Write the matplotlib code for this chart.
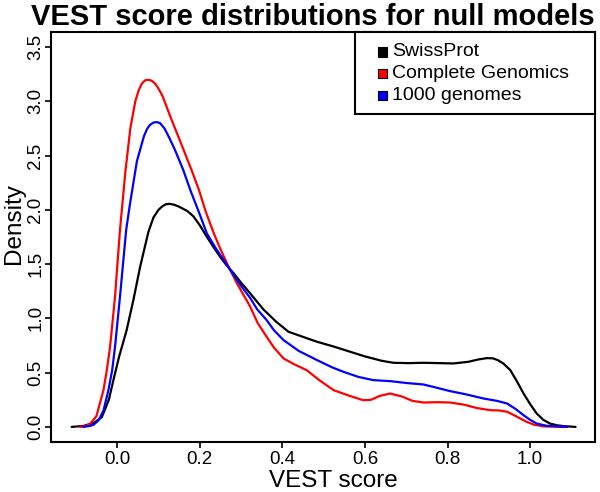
import matplotlib
matplotlib.use("Agg")
import matplotlib.pyplot as plt
from matplotlib.patches import Rectangle

plt.rcParams['font.family'] = ['Liberation Sans', 'DejaVu Sans']

# ---- data ----
series_names = ["SwissProt", "Complete Genomics", "1000 genomes"]
series_colors = ["black", "red", "blue"]

swiss_x = [-0.110, -0.080, -0.055, -0.037, -0.020, -0.009, 0.005, 0.023, 0.040, 0.056,
           0.076, 0.088, 0.100, 0.110, 0.118, 0.127, 0.138, 0.150, 0.170, 0.185,
           0.200, 0.217, 0.233, 0.249, 0.265, 0.282, 0.300, 0.322, 0.354, 0.385,
           0.415, 0.450, 0.484, 0.525, 0.564, 0.600, 0.640, 0.669, 0.705, 0.742,
           0.780, 0.814, 0.850, 0.875, 0.895, 0.910, 0.922, 0.935, 0.952, 0.968,
           0.984, 1.000, 1.016, 1.032, 1.048, 1.065, 1.080, 1.110]
swiss_y = [0.00, 0.01, 0.04, 0.09, 0.25, 0.43, 0.65, 0.89, 1.18, 1.48,
           1.80, 1.93, 2.00, 2.035, 2.052, 2.056, 2.048, 2.03, 1.99, 1.94,
           1.86, 1.754, 1.66, 1.57, 1.49, 1.417, 1.33, 1.232, 1.084, 0.97,
           0.877, 0.83, 0.785, 0.74, 0.693, 0.65, 0.61, 0.591, 0.588, 0.591,
           0.588, 0.585, 0.60, 0.622, 0.634, 0.632, 0.615, 0.585, 0.523, 0.42,
           0.308, 0.21, 0.123, 0.065, 0.031, 0.015, 0.008, 0.00]

cg_x = [-0.090, -0.075, -0.065, -0.050, -0.033, -0.025, -0.017, -0.005, 0.007, 0.020,
        0.032, 0.044, 0.052, 0.060, 0.068, 0.076, 0.084, 0.092, 0.100, 0.110,
        0.130, 0.161, 0.180, 0.198, 0.215, 0.234, 0.250, 0.266, 0.290, 0.322,
        0.340, 0.362, 0.380, 0.403, 0.430, 0.459, 0.490, 0.524, 0.560, 0.596,
        0.615, 0.635, 0.661, 0.690, 0.715, 0.742, 0.775, 0.806, 0.840, 0.870,
        0.903, 0.925, 0.944, 0.965, 0.992, 1.010, 1.032, 1.090]
cg_y = [0.00, 0.01, 0.03, 0.10, 0.339, 0.52, 0.739, 1.20, 1.816, 2.35,
        2.75, 3.00, 3.10, 3.165, 3.195, 3.20, 3.19, 3.165, 3.12, 3.05,
        2.85, 2.554, 2.37, 2.186, 1.98, 1.786, 1.64, 1.508, 1.324, 1.11,
        0.96, 0.831, 0.73, 0.631, 0.575, 0.523, 0.43, 0.339, 0.29, 0.246,
        0.25, 0.285, 0.308, 0.28, 0.24, 0.225, 0.228, 0.225, 0.205, 0.175,
        0.154, 0.152, 0.14, 0.10, 0.046, 0.02, 0.005, 0.00]

kg_x = [-0.082, -0.065, -0.057, -0.045, -0.033, -0.021, -0.012, -0.005, 0.007, 0.022,
        0.031, 0.048, 0.065, 0.073, 0.080, 0.088, 0.096, 0.104, 0.115, 0.127,
        0.140, 0.160, 0.177, 0.200, 0.217, 0.240, 0.258, 0.282, 0.300, 0.322,
        0.339, 0.362, 0.380, 0.403, 0.440, 0.484, 0.520, 0.548, 0.585, 0.621,
        0.661, 0.700, 0.742, 0.775, 0.806, 0.845, 0.887, 0.920, 0.944, 0.965,
        0.984, 1.000, 1.016, 1.040, 1.090]
kg_y = [0.00, 0.01, 0.02, 0.06, 0.15, 0.339, 0.52, 0.739, 1.20, 1.816,
        2.05, 2.45, 2.68, 2.75, 2.785, 2.805, 2.81, 2.80, 2.75, 2.66,
        2.554, 2.37, 2.186, 1.96, 1.786, 1.64, 1.539, 1.40, 1.30, 1.19,
        1.084, 0.985, 0.89, 0.80, 0.70, 0.616, 0.55, 0.508, 0.46, 0.431,
        0.422, 0.405, 0.391, 0.36, 0.33, 0.30, 0.262, 0.24, 0.216, 0.165,
        0.108, 0.065, 0.031, 0.01, 0.00]

x_ticks = [0.0, 0.2, 0.4, 0.6, 0.8, 1.0]
y_ticks = [0.0, 0.5, 1.0, 1.5, 2.0, 2.5, 3.0, 3.5]

title = "VEST score distributions for null models"
xlabel = "VEST score"
ylabel = "Density"

# ---- figure ----
W, H = 600, 492
fig = plt.figure(figsize=(W / 100, H / 100), dpi=100)

def fx(px):
    return px / W

def fy(py):
    return 1 - py / H

ax_l, ax_r, ax_t, ax_b = 51, 595, 32, 442
ax = fig.add_axes([fx(ax_l), fy(ax_b), (ax_r - ax_l) / W, (ax_b - ax_t) / H])

for xs, ys, c in zip([swiss_x, cg_x, kg_x], [swiss_y, cg_y, kg_y], series_colors):
    ax.plot(xs, ys, color=c, lw=1.6, solid_joinstyle='round', solid_capstyle='round')

ax.set_xlim(-0.160, 1.157)
ax.set_ylim(-0.139, 3.64)
ax.set_xticks(x_ticks)
ax.set_xticklabels([f"{v:.1f}" for v in x_ticks])
ax.set_yticks(y_ticks)
ax.set_yticklabels([f"{v:.1f}" for v in y_ticks], rotation=90, va='center')
ax.tick_params(direction='out', length=4.3, width=1.2, labelsize=13.5, colors='black')
ax.tick_params(axis='x', pad=2.5)
ax.tick_params(axis='y', pad=0.5)
for s in ax.spines.values():
    s.set_linewidth(1.5)

fig.text(fx(20), fy(224), ylabel, rotation=90, rotation_mode='anchor',
         ha='center', va='baseline', fontsize=17.5)
fig.text(fx(333), fy(487), xlabel, ha='center', va='baseline', fontsize=17.5)
fig.text(fx(313), fy(25), title, ha='center', va='baseline', fontsize=21, fontweight='bold')

# legend (drawn in figure pixels)
fig.patches.append(Rectangle((fx(355), fy(114)), (595 - 355) / W, (114 - 32) / H,
                             transform=fig.transFigure, facecolor='white',
                             edgecolor='black', lw=1.5, zorder=5))
for i, (name, c) in enumerate(zip(series_names, series_colors)):
    cy = [52, 73, 95][i]
    s = 9
    fig.patches.append(Rectangle((fx(382 - s / 2), fy(cy + s / 2)), s / W, s / H,
                                 transform=fig.transFigure, facecolor=c,
                                 edgecolor='black', lw=0.8, zorder=6))
    fig.text(fx(392), fy(cy), name, ha='left', va='center', fontsize=14, zorder=7)

fig.savefig("out.png", dpi=100)
